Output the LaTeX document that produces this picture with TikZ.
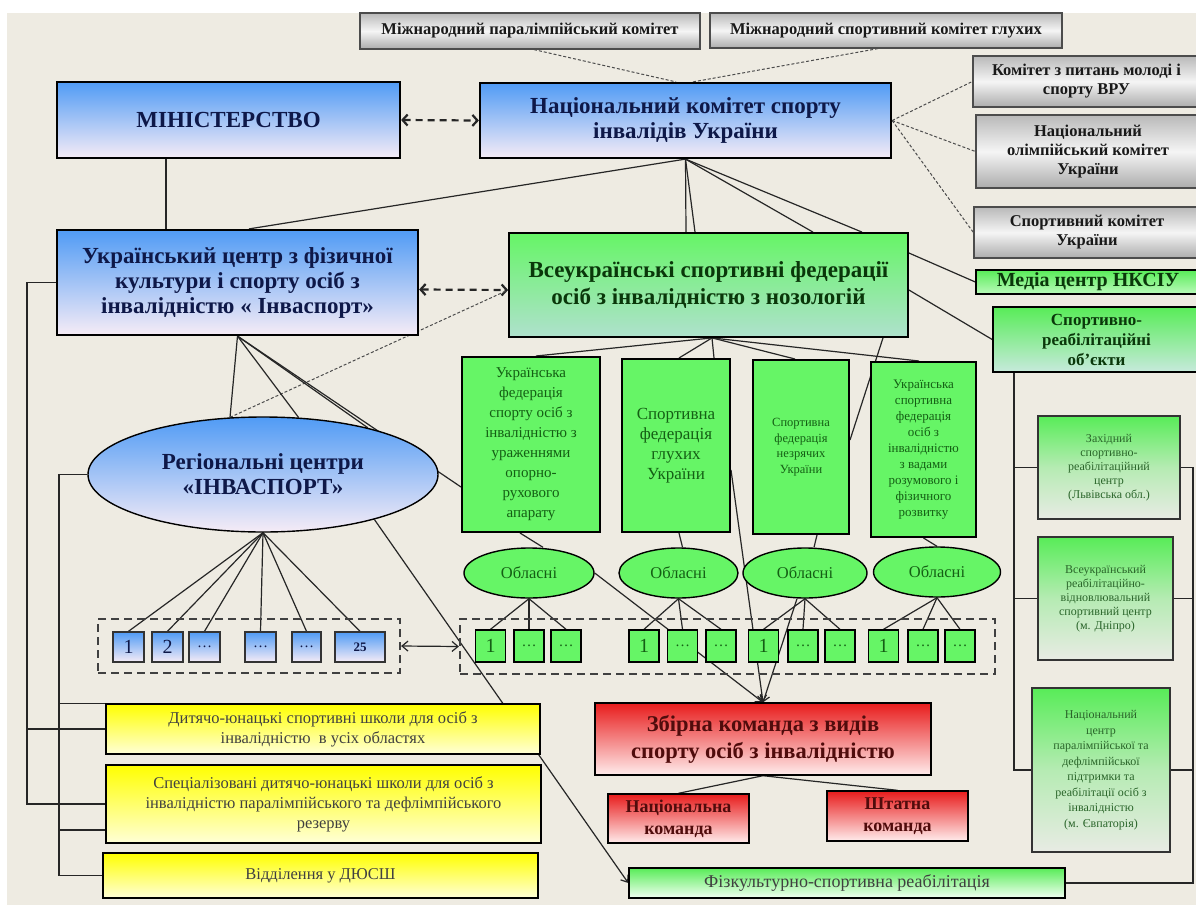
\documentclass[tikz,border=0pt]{standalone}
\usepackage{fontspec}
\setmainfont{Liberation Serif}
\usetikzlibrary{arrows.meta,shapes.geometric}

\definecolor{bgbeige}{RGB}{238,235,226}
\definecolor{navyink}{RGB}{14,24,72}
\definecolor{blueT}{RGB}{80,155,245}
\definecolor{blueB}{RGB}{246,236,246}
\definecolor{fedgreen}{RGB}{102,245,102}
\definecolor{objT}{RGB}{88,236,88}
\definecolor{vsfB}{RGB}{175,225,205}
\definecolor{greenink}{RGB}{10,55,10}
\definecolor{fedink}{RGB}{20,95,20}
\definecolor{yelT}{RGB}{255,255,0}
\definecolor{yelB}{RGB}{255,255,215}
\definecolor{redT}{RGB}{232,28,28}
\definecolor{redB}{RGB}{255,236,236}
\definecolor{redink}{RGB}{80,12,12}
\definecolor{paleB}{RGB}{232,235,228}

\pgfdeclarelayer{bg}
\pgfdeclarelayer{edges}
\pgfsetlayers{bg,edges,main}

\newcommand\fsz[2]{\fontsize{#1}{#2}\selectfont}

\tikzset{
  box/.style={draw=black, line width=1.6pt, align=center, inner sep=1pt},
  greybox/.style={box, draw=black!70, line width=1.2pt, top color=gray!55, bottom color=gray!65, middle color=gray!8, text=black!90, font=\fsz{16.5}{19}\bfseries},
  bluebox/.style={box, line width=2.2pt, top color=blueT, bottom color=blueB, text=navyink, font=\fsz{23}{25}\bfseries},
  vsfbox/.style={box, line width=1.8pt, top color=fedgreen, bottom color=vsfB, text=greenink, font=\fsz{23}{27}\bfseries},
  fedbox/.style={box, line width=2pt, fill=fedgreen, text=fedink},
  oblast/.style={ellipse, draw=black, line width=1.4pt, fill=fedgreen, text=fedink, inner sep=0pt, minimum height=50, font=\fsz{16.5}{18}},
  gsq/.style={draw=black, line width=1.4pt, fill=fedgreen, text=fedink, inner sep=0pt, minimum width=30, minimum height=32, font=\fsz{20}{20}},
  bsq/.style={draw=black!80, line width=1.4pt, top color=blueT, bottom color=blueB, text=navyink, inner sep=0pt, minimum width=31, minimum height=30, font=\fsz{20}{20}},
  frame/.style={draw=black!75, line width=2.2pt, dash pattern=on 8pt off 5pt, inner sep=0pt},
  yelbox/.style={box, line width=1.4pt, top color=yelT, bottom color=yelB, text=black!75, font=\fsz{16.5}{20}},
  redbox/.style={box, line width=1.4pt, top color=redT, bottom color=redB, text=redink},
  objbox/.style={box, draw=black!80, line width=1.6pt, top color=objT, bottom color=paleB, middle color=objT!35!paleB, text=fedink!80!gray, font=\fsz{12}{14}},
  link/.style={draw=black!85, line width=1.2pt},
  dotlink/.style={draw=black!70, line width=1pt, dash pattern=on 3pt off 2pt},
  bothdash/.style={draw=black!85, line width=2.2pt, dash pattern=on 7pt off 5pt, >={Straight Barb[length=5pt,width=11pt]}, <->},
  thinarrow/.style={link, >={Straight Barb[length=6pt,width=10pt]}, <->},
  toarrow/.style={link, -{Straight Barb[length=6pt,width=9pt]}}
}

\begin{document}
\begin{tikzpicture}[x=1pt, y=-1pt]
  \useasboundingbox (0,0) rectangle (1196,907);
  \begin{pgfonlayer}{bg}
    \fill [white] (0,0) rectangle (1196,907);
    \fill [bgbeige] (7,13) rectangle (1196,905);
  \end{pgfonlayer}
  % international committees
  \node [greybox, minimum width=340, minimum height=36] (ipc) at (530,31) {Міжнародний паралімпійський комітет};
  \node [greybox, minimum width=352, minimum height=35] (icsd) at (886,30.5) {Міжнародний спортивний комітет глухих};
  % top level
  \node [bluebox, minimum width=343, minimum height=76] (min) at (228.5,120) {МІНІСТЕРСТВО};
  \node [bluebox, minimum width=411, minimum height=75] (nksiu) at (685.5,120.5) {Національний комітет спорту\\інвалідів України};
  % partners on the right
  \node [greybox, minimum width=227, minimum height=51] (km) at (1086.5,81.5) {Комітет з питань молоді і\\спорту ВРУ};
  \node [greybox, minimum width=224, minimum height=73] (nok) at (1088,151.5) {Національний\\олімпійський комітет\\України};
  \node [greybox, minimum width=226, minimum height=51] (sku) at (1087,232.5) {Спортивний комітет\\України};
  \node [box, line width=1.4pt, top color=objT, bottom color=fedgreen!45!white, text=greenink, font=\fsz{20}{20}\bfseries, minimum width=224, minimum height=24, inner sep=0pt] (media) at (1088,282) {Медіа центр НКСІУ};
  \node [box, line width=1.6pt, top color=objT, bottom color=vsfB!70!white, text=greenink, font=\fsz{17}{20}\bfseries, minimum width=207, minimum height=65] (sro) at (1096.5,339.5) {Спортивно-\\реабілітаційні\\об’єкти};
  % second level
  \node [bluebox, minimum width=361, minimum height=105] (uc) at (237.5,282.5) {Український центр з фізичної\\культури і спорту осіб з\\інвалідністю « Інваспорт»};
  \node [vsfbox, minimum width=399, minimum height=104] (vsf) at (708.5,285) {Всеукраїнські спортивні федерації\\осіб з інвалідністю з нозологій};
  \node [bluebox, ellipse, line width=1.4pt, minimum width=350, minimum height=115, inner sep=0pt] (reg) at (263,474.5) {Регіональні центри\\«ІНВАСПОРТ»};
  % federations
  \node [fedbox, minimum width=138, minimum height=175, font=\fsz{15}{20}] (f1) at (531,444.5) {Українська\\федерація\\спорту осіб з\\інвалідністю з\\ураженнями\\опорно-\\рухового\\апарату};
  \node [fedbox, minimum width=108, minimum height=173, font=\fsz{17}{20}] (f2) at (676,445.5) {Спортивна\\федерація\\глухих\\України};
  \node [fedbox, minimum width=96, minimum height=174, font=\fsz{12.5}{15.5}] (f3) at (801,447) {Спортивна\\федерація\\незрячих\\України};
  \node [fedbox, minimum width=105, minimum height=175, font=\fsz{13}{16}] (f4) at (923.5,449.5) {Українська\\спортивна\\федерація\\осіб з\\інвалідністю\\з вадами\\розумового і\\фізичного\\розвитку};
  \node [oblast, minimum width=130] (ob1) at (529,573) {Обласні};
  \node [oblast, minimum width=119] (ob2) at (678.5,573) {Обласні};
  \node [oblast, minimum width=124] (ob3) at (805,573) {Обласні};
  \node [oblast, minimum width=127] (ob4) at (937,572) {Обласні};
  % regional centres row
  \node [frame, minimum width=302, minimum height=54] (regrow) at (249,646) {};
  \node [bsq] (rb1) at (128.5,647) {1};
  \node [bsq] (rb2) at (167.5,647) {2};
  \node [bsq, font=\fsz{15}{15}] (rb3) at (204.5,647) {\ldots};
  \node [bsq, font=\fsz{15}{15}] (rb4) at (260.5,647) {\ldots};
  \node [bsq, minimum width=29, font=\fsz{15}{15}] (rb5) at (306.5,647) {\ldots};
  \node [bsq, minimum width=50, font=\fsz{13}{13}\bfseries] (rb6) at (360,647) {25};
  % oblast federations row
  \node [frame, minimum width=535, minimum height=55] (grnrow) at (727.5,646.5) {};
  \foreach \o/\xa/\xb/\xc in {1/490.5/529/566, 2/644/682.5/721, 3/763.5/803/840, 4/883.5/923/960} {
    \node [gsq] (g\o1) at (\xa,646) {1};
    \node [gsq, font=\fsz{15}{15}] (g\o2) at (\xb,646) {\ldots};
    \node [gsq, font=\fsz{15}{15}] (g\o3) at (\xc,646) {\ldots};
  }
  % teams
  \node [redbox, minimum width=336, minimum height=72, font=\fsz{22.5}{27}\bfseries] (zb) at (763,739) {Збірна команда з видів\\спорту осіб з інвалідністю};
  \node [redbox, minimum width=141, minimum height=49, font=\fsz{18}{22}\bfseries] (nat) at (678.5,818.5) {Національна\\команда};
  \node [redbox, minimum width=141, minimum height=50, font=\fsz{18}{22}\bfseries] (sht) at (897.5,816) {Штатна\\команда};
  \node [box, line width=1.4pt, top color=objT, bottom color=white!95!green, text=black!75, font=\fsz{18}{20}, minimum width=436, minimum height=30, inner sep=0pt] (fiz) at (847,883) {Фізкультурно-спортивна реабілітація};
  % schools
  \node [yelbox, minimum width=434, minimum height=50] (y1) at (323,729) {Дитячо-юнацькі спортивні школи для осіб з\\інвалідністю \ в усіх областях};
  \node [yelbox, minimum width=435, minimum height=78] (y2) at (323.5,804) {Спеціалізовані дитячо-юнацькі школи для осіб з\\інвалідністю паралімпійського та дефлімпійського\\резерву};
  \node [yelbox, minimum width=435, minimum height=45] (y3) at (320.5,875.5) {Відділення у ДЮСШ};
  % rehabilitation objects
  \node [objbox, minimum width=142, minimum height=103] (r1) at (1109,467.5) {Західний\\спортивно-\\реабілітаційний\\центр\\(Львівська обл.)};
  \node [objbox, minimum width=135, minimum height=123] (r2) at (1105.5,598.5) {Всеукраїнський\\реабілітаційно-\\відновлювальний\\спортивний центр\\(м. Дніпро)};
  \node [objbox, minimum width=138, minimum height=164, font=\fsz{12}{15.5}] (r3) at (1101,770) {Національний\\центр\\паралімпійської та\\дефлімпійської\\підтримки та\\реабілітації осіб з\\інвалідністю\\(м. Євпаторія)};
  % bus lines
  \coordinate (lbusA) at (27,0);
  \coordinate (lbusB) at (59,0);
  \coordinate (rbus) at (1193,0);
  \begin{pgfonlayer}{edges}
    % dashed and dotted links
    \draw [bothdash] (min.east) -- (nksiu.west);
    \draw [bothdash] ([yshift=-7]uc.east) -- ([yshift=-5]vsf.west);
    \draw [dotlink] ([xshift=4]ipc.south) -- ([xshift=-9.5]nksiu.north);
    \draw [dotlink] ([xshift=-8]icsd.south) -- ([xshift=7.5]nksiu.north);
    \foreach \t in {km, nok, sku}
      \draw [dotlink] (nksiu.east) -- (\t.west);
    \draw [dotlink] (reg.120) -- ([yshift=-5]vsf.west);
    % solid links from the top
    \draw [link] ([xshift=-62.5]min.south) -- ([xshift=-71.5]uc.north);
    \draw [link] (nksiu.south) -- ([xshift=11.5]uc.north);
    \foreach \dx in {-22.5, -13.5, 104.5, 153.5}
      \draw [link] (nksiu.south) -- ([xshift=\dx]vsf.north);
    \draw [link] ([yshift=32]vsf.east) -- (media.west);
    \draw [link] ([yshift=-5]vsf.east) -- (sro.west);
    % federations
    \foreach \n/\dx in {1/5, 2/3, 2/38, 3/-6, 4/-4.5}
      \draw [link] ([xshift=3.5]vsf.south) -- ([xshift=\dx]f\n.north);
    \draw [link] ([xshift=174.5]vsf.south) -- ([yshift=7]f3.east);
    \draw [link] ([xshift=-11]f1.south) -- ([xshift=14]ob1.north);
    \draw [link] ([xshift=3]f2.south) -- ([xshift=4]ob2.north);
    \draw [link] ([xshift=16]f3.south) -- ([xshift=9]ob3.north);
    \draw [link] (f4.south) -- (ob4.north);
    \foreach \o in {1,...,4}
      \foreach \k in {1,2,3}
        \draw [link] (ob\o.south) -- (g\o\k.north);
    % centre links
    \draw [link] (uc.south) -- (reg.120);
    \draw [link] (uc.south) -- (reg.58);
    \draw [link] (uc.south) -- (reg.24);
    \draw [link] (uc.south) -- ([yshift=-42.5]f1.west);
    \foreach \n in {1,...,6}
      \draw [link] (reg.south) -- (rb\n.north);
    \draw [thinarrow] (regrow.east) -- (grnrow.west);
    \draw [toarrow] (reg.-22) -- (fiz.west);
    % to the national team
    \draw [toarrow] (ob1.east) -- (zb.north);
    \draw [toarrow] ([yshift=-24.5]f2.east) -- (zb.north);
    \draw [toarrow] ([xshift=-8]ob3.south) -- (zb.north);
    \draw [link] (zb.south) -- (nat.north);
    \draw [link] (zb.south) -- (sht.north);
    % schools on the left
    \draw [link] (uc.west) -- (uc.west -| lbusA) |- (y1.west);
    \draw [link] (uc.west) -- (uc.west -| lbusA) |- (y2.west);
    \draw [link] (reg.west) -- (reg.west -| lbusB) |- (y1.north west);
    \draw [link] (reg.west) -- (reg.west -| lbusB) |- ([yshift=-26]y2.west);
    \draw [link] (reg.west) -- (reg.west -| lbusB) |- (y3.west);
    % rehabilitation objects on the right
    \foreach \r in {r1, r2, r3}
      \draw [link] ([xshift=-82.5]sro.south) |- (\r.west);
    \draw [link] (r1.east) -- (r1.east -| rbus) |- (fiz.east);
    \draw [link] (r2.east) -- (r2.east -| rbus);
    \draw [link] (r3.east) -- (r3.east -| rbus);
  \end{pgfonlayer}
\end{tikzpicture}
\end{document}
